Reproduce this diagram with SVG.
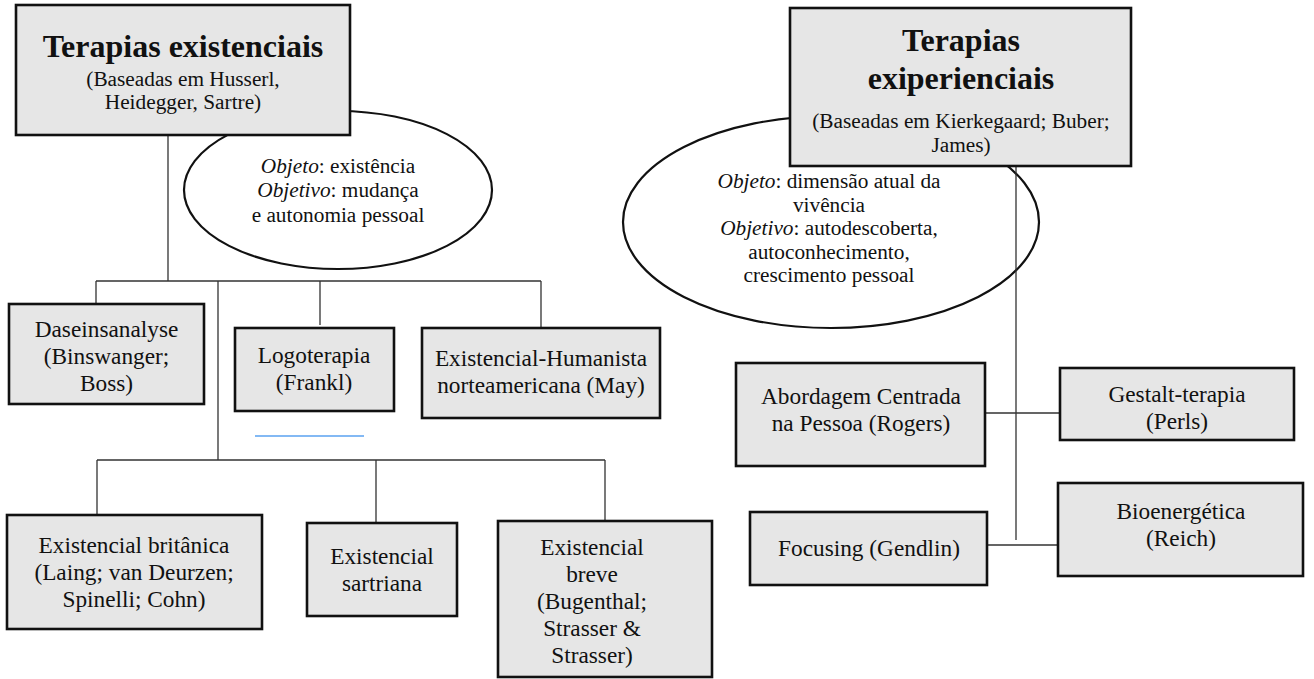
<svg xmlns="http://www.w3.org/2000/svg" width="1314" height="679" viewBox="0 0 1314 679">
<style>
.box{fill:#e6e6e6;stroke:#111;stroke-width:2.6}
.ell{fill:#fff;stroke:#111;stroke-width:2.2}
.ln{stroke:#333;stroke-width:1.3;fill:none}
text{font-family:"Liberation Serif","Times New Roman",serif;fill:#111;text-anchor:middle}
.t{font-size:32px;font-weight:bold}
.s{font-size:21.3px}
.b{font-size:23.3px}
</style>
<rect width="1314" height="679" fill="#fff"/>
<g id="ellipse-existenciais">
<ellipse class="ell" cx="338" cy="190" rx="154" ry="79"/>
<text class="s" x="338" y="173"><tspan font-style="italic">Objeto</tspan>: existência</text>
<text class="s" x="338" y="197"><tspan font-style="italic">Objetivo</tspan>: mudança</text>
<text class="s" x="338" y="222">e autonomia pessoal</text>
</g>
<g id="ellipse-experienciais">
<ellipse class="ell" cx="831" cy="222" rx="208" ry="106"/>
<text class="s" x="829" y="188"><tspan font-style="italic">Objeto</tspan>: dimensão atual da</text>
<text class="s" x="829" y="211.5">vivência</text>
<text class="s" x="829" y="235"><tspan font-style="italic">Objetivo</tspan>: autodescoberta,</text>
<text class="s" x="829" y="258.5">autoconhecimento,</text>
<text class="s" x="829" y="282">crescimento pessoal</text>
</g>
<g id="connectors">
<path class="ln" d="M168 135V281M96 281H541M96 281V304M218 281V460M320 281V325M541 281V334"/>
<path class="ln" d="M97 460H605M97 460V520M376 460V523M605 460V521"/>
<path d="M255 436H364" stroke="#5aa2f0" stroke-width="1.5"/>
<path class="ln" d="M1016 166V540M985 413H1060M987 545H1058"/>
</g>
<g id="terapias-existenciais">
<rect class="box" x="16" y="5" width="334" height="130"/>
<text class="t" x="183" y="57">Terapias existenciais</text>
<text class="s" x="183" y="86">(Baseadas em Husserl,</text>
<text class="s" x="183" y="109">Heidegger, Sartre)</text>
</g>
<g id="terapias-experienciais">
<rect class="box" x="790" y="8" width="341" height="158"/>
<text class="t" x="961" y="51">Terapias</text>
<text class="t" x="961" y="89">exiperienciais</text>
<text class="s" x="961" y="128">(Baseadas em Kierkegaard; Buber;</text>
<text class="s" x="961" y="152">James)</text>
</g>
<g id="daseinsanalyse">
<rect class="box" x="9" y="304" width="195" height="100"/>
<text class="b" x="106.5" y="337">Daseinsanalyse</text>
<text class="b" x="106.5" y="364">(Binswanger;</text>
<text class="b" x="106.5" y="391">Boss)</text>
</g>
<g id="logoterapia">
<rect class="box" x="235" y="328" width="159" height="83"/>
<text class="b" x="314" y="363">Logoterapia</text>
<text class="b" x="314" y="390">(Frankl)</text>
</g>
<g id="existencial-humanista">
<rect class="box" x="422" y="328" width="238" height="90"/>
<text class="b" x="541" y="366">Existencial-Humanista</text>
<text class="b" x="541" y="393">norteamericana (May)</text>
</g>
<g id="existencial-britanica">
<rect class="box" x="7" y="515" width="255" height="114"/>
<text class="b" x="134" y="553">Existencial britânica</text>
<text class="b" x="134" y="580">(Laing; van Deurzen;</text>
<text class="b" x="134" y="607">Spinelli; Cohn)</text>
</g>
<g id="existencial-sartriana">
<rect class="box" x="307" y="523" width="150" height="93"/>
<text class="b" x="382" y="564">Existencial</text>
<text class="b" x="382" y="591">sartriana</text>
</g>
<g id="existencial-breve">
<rect class="box" x="498" y="521" width="214" height="156"/>
<text class="b" x="592" y="555">Existencial</text>
<text class="b" x="592" y="582">breve</text>
<text class="b" x="592" y="609">(Bugenthal;</text>
<text class="b" x="592" y="636">Strasser &amp;</text>
<text class="b" x="592" y="663">Strasser)</text>
</g>
<g id="abordagem-centrada">
<rect class="box" x="736" y="363" width="249" height="103"/>
<text class="b" x="861" y="404">Abordagem Centrada</text>
<text class="b" x="861" y="431">na Pessoa (Rogers)</text>
</g>
<g id="gestalt">
<rect class="box" x="1060" y="368" width="234" height="72"/>
<text class="b" x="1177" y="402">Gestalt-terapia</text>
<text class="b" x="1177" y="429">(Perls)</text>
</g>
<g id="focusing">
<rect class="box" x="750" y="512" width="237" height="73"/>
<text class="b" x="869" y="556">Focusing (Gendlin)</text>
</g>
<g id="bioenergetica">
<rect class="box" x="1058" y="483" width="245" height="93"/>
<text class="b" x="1181" y="519">Bioenergética</text>
<text class="b" x="1181" y="546">(Reich)</text>
</g>
</svg>
